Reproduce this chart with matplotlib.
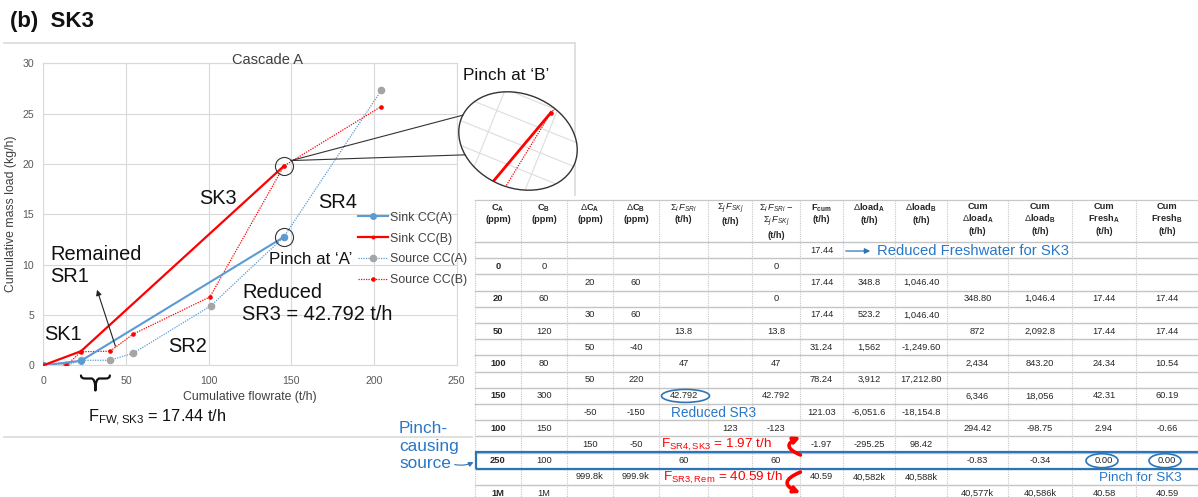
import numpy as np
import matplotlib
matplotlib.use("Agg")
import matplotlib.pyplot as plt
from matplotlib.lines import Line2D
from matplotlib.patches import Ellipse, Rectangle, FancyArrowPatch, PathPatch
from matplotlib.path import Path
from matplotlib.transforms import Affine2D, IdentityTransform

plt.rcParams['font.family'] = ['Liberation Sans', 'DejaVu Sans']
plt.rcParams['mathtext.fontset'] = 'custom'
plt.rcParams['mathtext.rm'] = 'Liberation Sans'
plt.rcParams['mathtext.it'] = 'Liberation Sans:italic'
plt.rcParams['mathtext.bf'] = 'Liberation Sans:bold'

# ---------------- composite curve data (Cascade A / B) ----------------
sink_a_flow = [0, 22.8, 145.5]
sink_a_load = [0, 0.45, 12.75]
sink_b_flow = [0, 22.8, 145.5]
sink_b_load = [0, 1.4, 19.8]
src_a_flow = [0, 14, 22.8, 40.3, 54.4, 101.2, 145.5, 204.3]
src_a_load = [0, 0, 0.5, 0.5, 1.2, 5.9, 12.75, 27.3]
src_b_flow = [0, 14, 22.8, 40.3, 54.4, 100.8, 145.5, 204.3]
src_b_load = [0, 0, 1.35, 1.4, 3.1, 6.8, 19.8, 25.7]
fw_start = 22.8          # start of the freshwater segment (t/h)
fw_sk3 = 17.44           # freshwater for SK3 (t/h)
x_ticks = [0, 50, 100, 150, 200, 250]
y_ticks = [0, 5, 10, 15, 20, 25, 30]

# ---------------- cascade table ----------------
col_ca = ["", "0", "", "20", "", "50", "", "100", "", "150", "", "100", "", "250", "", "1M"]
col_cb = ["", "0", "", "60", "", "120", "", "80", "", "300", "", "150", "", "100", "", "1M"]
col_dca = ["", "", "20", "", "30", "", "50", "", "50", "", "-50", "", "150", "", "999.8k", ""]
col_dcb = ["", "", "60", "", "60", "", "-40", "", "220", "", "-150", "", "-50", "", "999.9k", ""]
col_fsr = ["", "", "", "", "", "13.8", "", "47", "", "42.792", "", "", "", "60", "", ""]
col_fsk = ["", "", "", "", "", "", "", "", "", "", "", "123", "", "", "", ""]
col_net = ["", "0", "", "0", "", "13.8", "", "47", "", "42.792", "", "-123", "", "60", "", ""]
col_fcum = ["17.44", "", "17.44", "", "17.44", "", "31.24", "", "78.24", "", "121.03", "", "-1.97", "", "40.59", ""]
col_dla = ["", "", "348.8", "", "523.2", "", "1,562", "", "3,912", "", "-6,051.6", "", "-295.25", "", "40,582k", ""]
col_dlb = ["", "", "1,046.40", "", "1,046.40", "", "-1,249.60", "", "17,212.80", "", "-18,154.8", "", "98.42", "", "40,588k", ""]
col_cla = ["", "", "", "348.80", "", "872", "", "2,434", "", "6,346", "", "294.42", "", "-0.83", "", "40,577k"]
col_clb = ["", "", "", "1,046.4", "", "2,092.8", "", "843.20", "", "18,056", "", "-98.75", "", "-0.34", "", "40,586k"]
col_fra = ["", "", "", "17.44", "", "17.44", "", "24.34", "", "42.31", "", "2.94", "", "0.00", "", "40.58"]
col_frb = ["", "", "", "17.44", "", "17.44", "", "10.54", "", "60.19", "", "-0.66", "", "0.00", "", "40.59"]
headers = [
    r"$\mathbf{C_A}$" + "\n(ppm)",
    r"$\mathbf{C_B}$" + "\n(ppm)",
    r"$\Delta\mathbf{C_A}$" + "\n(ppm)",
    r"$\Delta\mathbf{C_B}$" + "\n(ppm)",
    r"$\Sigma_i\,F_{SRi}$" + "\n(t/h)",
    r"$\Sigma_j\,F_{SKj}$" + "\n(t/h)",
    r"$\Sigma_i\,F_{SRi}\,-$" + "\n" + r"$\Sigma_j\,F_{SKj}$" + "\n(t/h)",
    r"$\mathbf{F_{cum}}$" + "\n(t/h)",
    r"$\Delta\mathbf{load_A}$" + "\n(t/h)",
    r"$\Delta\mathbf{load_B}$" + "\n(t/h)",
    "Cum\n" + r"$\Delta\mathbf{load_A}$" + "\n(t/h)",
    "Cum\n" + r"$\Delta\mathbf{load_B}$" + "\n(t/h)",
    "Cum\n" + r"$\mathbf{Fresh_A}$" + "\n(t/h)",
    "Cum\n" + r"$\mathbf{Fresh_B}$" + "\n(t/h)",
]
columns = [col_ca, col_cb, col_dca, col_dcb, col_fsr, col_fsk, col_net, col_fcum,
           col_dla, col_dlb, col_cla, col_clb, col_fra, col_frb]

W, H = 1198, 497
BLUE = '#5B9BD5'
RED = '#FF0000'
GREY = '#A5A5A5'
TXTBLUE = '#2878C8'

fig = plt.figure(figsize=(W / 100, H / 100), dpi=100)


def ftxt(x, y, s, **kw):
    """Place text using pixel coordinates measured from the top-left corner."""
    return fig.text(x / W, 1 - y / H, s, **kw)


def disp(x, y):
    return (x, H - y)


# ---------------- panel frame and title ----------------
for seg in [((4, 43), (575, 43)), ((575, 43), (575, 437)), ((4, 437), (575, 437))]:
    (xa, ya), (xb, yb) = seg
    fig.add_artist(Line2D([xa, xb], [H - ya, H - yb], transform=IdentityTransform(),
                          color='#DDDDDD', lw=1.3, zorder=1))
ftxt(10, 21, "(b)  SK3", fontsize=16, fontweight='bold', va='center', ha='left', color='#111111')

# ---------------- chart ----------------
ax = fig.add_axes([43.3 / W, 1 - 365.3 / H, 413.4 / W, 302 / H])
ax.set_xlim(0, 250)
ax.set_ylim(0, 30)
ax.set_xticks(x_ticks)
ax.set_yticks(y_ticks)
ax.grid(True, color='#D9D9D9', lw=0.8)
ax.set_axisbelow(True)
for s in ax.spines.values():
    s.set_color('#D9D9D9')
    s.set_linewidth(0.8)
ax.tick_params(axis='x', length=0, labelsize=7.6, labelcolor='#595959', pad=7.5)
ax.tick_params(axis='y', length=0, labelsize=7.6, labelcolor='#595959', pad=6.5)

l_ra, = ax.plot(src_a_flow, src_a_load, color=BLUE, lw=0.9, ls=(0, (1, 1)), marker='o', ms=4.5,
                mfc=GREY, mec=GREY, label='Source CC(A)', zorder=3)
l_rb, = ax.plot(src_b_flow, src_b_load, color=RED, lw=0.9, ls=(0, (1, 1)), marker='o', ms=2.3,
                mfc=RED, mec=RED, label='Source CC(B)', zorder=3)
l_sa, = ax.plot(sink_a_flow, sink_a_load, color=BLUE, lw=1.5, marker='o', ms=4,
                label='Sink CC(A)', zorder=4)
l_sb, = ax.plot(sink_b_flow, sink_b_load, color=RED, lw=1.6, marker='o', ms=1.8,
                label='Sink CC(B)', zorder=4)

leg = ax.legend(handles=[l_sa, l_sb, l_ra, l_rb], loc='center left',
                bbox_to_anchor=(358 / W, 1 - 249 / H), bbox_transform=fig.transFigure,
                frameon=False, fontsize=8.9, handlelength=2.4, handletextpad=0.15,
                labelspacing=0.72, borderpad=0, borderaxespad=0)
for t in leg.get_texts():
    t.set_color('#404040')

# pinch circles at the ends of the sink curves
ax.plot(sink_b_flow[-1], sink_b_load[-1], 'o', ms=13, mfc='none', mec='#333333', mew=0.8, zorder=5)
ax.plot(sink_a_flow[-1], sink_a_load[-1], 'o', ms=13, mfc='none', mec='#333333', mew=0.8, zorder=5)

ftxt(267, 60, "Cascade A", fontsize=10.5, ha='center', va='center', color='#404040')
ftxt(250, 397, "Cumulative flowrate (t/h)", fontsize=8.8, ha='center', va='center', color='#404040')
ftxt(11, 214, "Cumulative mass load (kg/h)", fontsize=8.8, ha='center', va='center',
     rotation=90, color='#404040')

# chart annotations
big = dict(fontsize=14.4, ha='left', va='center', color='#111111')
ftxt(199, 198, "SK3", **big)
ftxt(318, 202, "SR4", **big)
ftxt(50, 265, "Remained\nSR1", linespacing=1.2, **big)
ftxt(44, 335, "SK1", **big)
ftxt(168, 346, "SR2", **big)
ftxt(242, 303, "Reduced\nSR3 = 42.792 t/h", linespacing=1.2, **big)
ftxt(269, 260, "Pinch at \u2018A\u2019", fontsize=12.2, ha='left', va='center', color='#111111')
ftxt(463, 75, "Pinch at \u2018B\u2019", fontsize=12.4, ha='left', va='center', color='#111111')

ax.annotate('', xy=(32.5, 7.5), xytext=(43.6, 1.9),
            arrowprops=dict(arrowstyle='-|>', color='#222222', lw=0.8, mutation_scale=8,
                            shrinkA=0, shrinkB=0), zorder=6)

# freshwater brace below the x axis
x0 = ax.transData.transform((fw_start, 0))[0]
x1 = ax.transData.transform((fw_start + fw_sk3, 0))[0]
xm = 0.5 * (x0 + x1)
yt = H - 378.5
verts = [(x0, yt + 3), (x0, yt), (x0 + 4, yt), (xm - 4, yt), (xm, yt), (xm, yt - 12),
         (xm, yt), (xm + 4, yt), (x1 - 4, yt), (x1, yt), (x1, yt + 3)]
codes = [Path.MOVETO, Path.CURVE3, Path.CURVE3, Path.LINETO, Path.CURVE3, Path.CURVE3,
         Path.CURVE3, Path.CURVE3, Path.LINETO, Path.CURVE3, Path.CURVE3]
fig.add_artist(PathPatch(Path(verts, codes), transform=IdentityTransform(), fill=False,
                         edgecolor='#111111', lw=1.6, capstyle='round', joinstyle='round'))
ftxt(88, 418, r"F$_{\mathrm{FW,SK3}}$ = 17.44 t/h", fontsize=11.8, ha='left', va='center',
     color='#111111')

# ---------------- magnified view of the pinch at 'B' ----------------
ell_c = (518, H - 141)
ell_fill = Ellipse(ell_c, 122, 94, angle=-22, transform=IdentityTransform(),
                   facecolor='white', edgecolor='none', zorder=5)
ell_edge = Ellipse(ell_c, 122, 94, angle=-22, transform=IdentityTransform(),
                   facecolor='none', edgecolor='#333333', lw=1.0, zorder=8)
fig.add_artist(ell_fill)
fig.add_artist(ell_edge)
pbx, pby = sink_b_flow[-1], sink_b_load[-1]
zoom_tf = (Affine2D().translate(-pbx, -pby).scale(1.12, 23).rotate_deg(-22)
           .translate(551, H - 112.5))
for gy in np.arange(10, 31, 1):
    ln = Line2D([0, 250], [gy, gy], transform=zoom_tf, color='#DDDDDD', lw=0.8, zorder=6)
    ln.set_clip_path(ell_fill)
    fig.add_artist(ln)
for gx in x_ticks:
    ln = Line2D([gx, gx], [0, 30], transform=zoom_tf, color='#DDDDDD', lw=0.8, zorder=6)
    ln.set_clip_path(ell_fill)
    fig.add_artist(ln)
zl1 = Line2D(src_b_flow, src_b_load, transform=zoom_tf, color=RED, lw=0.9, ls=(0, (1, 1)),
             marker='o', ms=2.3, mfc=RED, mec=RED, zorder=7)
zl2 = Line2D(sink_b_flow, sink_b_load, transform=zoom_tf, color=RED, lw=2.0, zorder=7)
for ln in (zl1, zl2):
    ln.set_clip_path(ell_fill)
    fig.add_artist(ln)

# connectors from the pinch circle to the magnified view
pc = ax.transData.transform((pbx, pby))
start = pc + 9 * np.array([np.cos(np.radians(37)), np.sin(np.radians(37))])
th = np.radians(-22)
e1 = np.array([np.cos(th), np.sin(th)])
e2 = np.array([-np.sin(th), np.cos(th)])
for tdeg in (176, 224):
    t = np.radians(tdeg)
    end = np.array(ell_c) + 61 * np.cos(t) * e1 + 47 * np.sin(t) * e2
    fig.add_artist(Line2D([start[0], end[0]], [start[1], end[1]], transform=IdentityTransform(),
                          color='#333333', lw=0.8, zorder=8))

# ---------------- cascade table ----------------
col_edges = [475, 521, 567, 613, 659, 708, 752, 800, 843, 895, 947, 1008, 1072, 1136, 1198]
row_top0 = 242
row_h = 16.2
fig.add_artist(Rectangle((473, 0), W - 473, H - 196, transform=IdentityTransform(),
                         facecolor='white', edgecolor='none', zorder=3))
# grid lines
fig.add_artist(Line2D([475, W], [H - 200, H - 200], transform=IdentityTransform(),
                      color='#C8C8C8', lw=0.9, zorder=4))
for k in range(17):
    yy = H - (row_top0 + row_h * k)
    fig.add_artist(Line2D([475, W], [yy, yy], transform=IdentityTransform(),
                          color='#C4C4C4', lw=1.0, zorder=4))
for xe in col_edges:
    fig.add_artist(Line2D([xe, xe], [H - 200, 0], transform=IdentityTransform(),
                          color='#C8C8C8', lw=0.8, ls=(0, (1, 1)), zorder=4))

centers = [0.5 * (a + b) for a, b in zip(col_edges[:-1], col_edges[1:])]
for j, (cx, hd) in enumerate(zip(centers, headers)):
    ftxt(cx, 202, hd, fontsize=6.7, fontweight='bold', ha='center', va='top',
         linespacing=1.2, color='#262626', zorder=5)
    for k, val in enumerate(columns[j]):
        if val:
            ftxt(cx, row_top0 + row_h * (k + 0.5), val, fontsize=6.7, ha='center', va='center',
                 color='#262626', fontweight='bold' if j == 0 else 'normal', zorder=5)

# highlighted pinch-causing source row
k13 = 13
fig.add_artist(Rectangle((476, H - (row_top0 + row_h * (k13 + 1)) - 0.5), W, row_h + 1,
                         transform=IdentityTransform(), facecolor='none',
                         edgecolor='#2E75B6', lw=1.6, zorder=6))
# circled values
y9 = H - (row_top0 + row_h * 9.5)
fig.add_artist(Ellipse((centers[4] + 2, y9), 48, 13, transform=IdentityTransform(),
                       facecolor='none', edgecolor='#2E75B6', lw=1.2, zorder=6))
y13 = H - (row_top0 + row_h * 13.5)
for c in (centers[12], centers[13]):
    fig.add_artist(Ellipse((c - 2, y13), 32, 14, transform=IdentityTransform(),
                           facecolor='none', edgecolor='#2E75B6', lw=1.2, zorder=6))

# table annotations
fig.add_artist(FancyArrowPatch(disp(843, 251), disp(873, 251), transform=IdentityTransform(),
                               arrowstyle='-|>', mutation_scale=8, lw=0.9, color='#2E75B6',
                               zorder=6))
ftxt(877, 251, "Reduced Freshwater for SK3", fontsize=10.7, ha='left', va='center',
     color=TXTBLUE, zorder=6)
ftxt(671, 413, "Reduced SR3", fontsize=9.8, ha='left', va='center', color=TXTBLUE, zorder=6)
ftxt(1099, 478, "Pinch for SK3", fontsize=9.7, ha='left', va='center', color=TXTBLUE, zorder=6)
ftxt(661, 445, r"F$_{\mathrm{SR4,SK3}}$ = 1.97 t/h", fontsize=9.7, ha='left', va='center',
     color=RED, zorder=6)
ftxt(663, 478, r"F$_{\mathrm{SR3,Rem}}$ = 40.59 t/h", fontsize=9.7, ha='left', va='center',
     color=RED, zorder=6)
fig.add_artist(FancyArrowPatch(disp(803, 456), disp(803, 436), transform=IdentityTransform(),
                               connectionstyle='arc3,rad=-1.3', arrowstyle='-|>',
                               mutation_scale=9, lw=2.6, color=RED, zorder=7))
fig.add_artist(FancyArrowPatch(disp(803, 471), disp(803, 494), transform=IdentityTransform(),
                               connectionstyle='arc3,rad=1.3', arrowstyle='-|>',
                               mutation_scale=9, lw=2.6, color=RED, zorder=7))

ftxt(399, 446, "Pinch-\ncausing\nsource", fontsize=12.4, ha='left', va='center',
     linespacing=1.22, color=TXTBLUE, zorder=6)
fig.add_artist(FancyArrowPatch(disp(452, 464), disp(476, 461), transform=IdentityTransform(),
                               connectionstyle='arc3,rad=0.2', arrowstyle='-|>',
                               mutation_scale=7, lw=0.8, color='#2E75B6', zorder=7))

fig.savefig("out.png", dpi=100)
